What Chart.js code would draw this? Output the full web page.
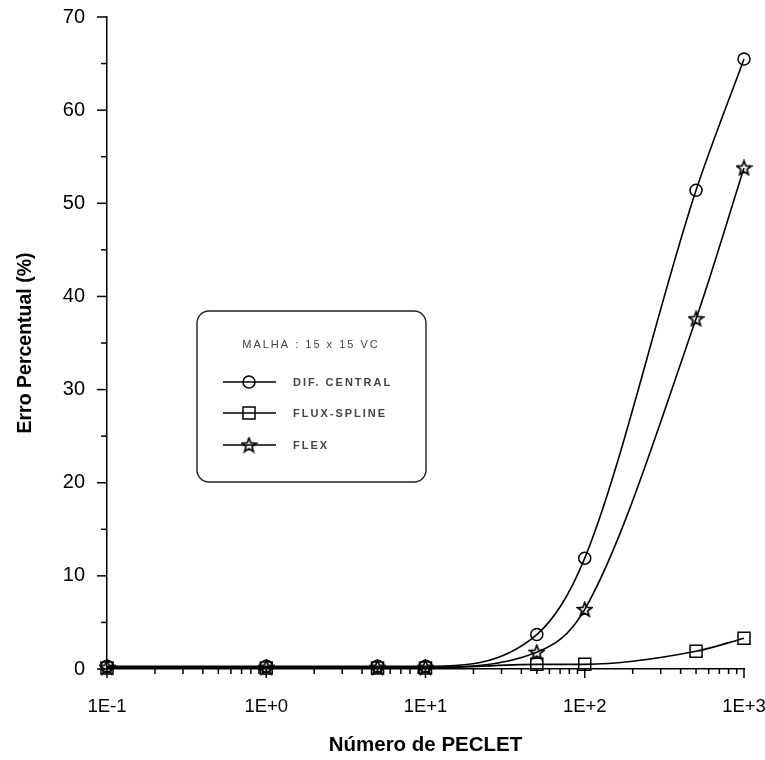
<!DOCTYPE html>
<html>
<head>
<meta charset="utf-8">
<script src="https://cdn.jsdelivr.net/npm/chart.js@4"></script>
<style>
  html, body { margin: 0; padding: 0; background: #fff; }
  #wrap { width: 765px; height: 760px; }
</style>
</head>
<body>
<div id="wrap"><canvas id="peclet" width="765" height="760"></canvas></div>
<script>
// Número de PECLET (eixo x, log)
const peclet = [0.1, 1, 5, 10, 50, 100, 500, 1000];

// Erro percentual (%) por esquema
const difCentral = [0.3, 0.3, 0.3, 0.3, 3.7, 11.9, 51.4, 65.5];
const fluxSpline = [0.1, 0.1, 0.1, 0.1, 0.5, 0.5, 1.9, 3.3];
const flex = [0.2, 0.2, 0.2, 0.2, 1.8, 6.4, 37.6, 53.8];

// ticks
const xTickValues = [0.1, 1, 10, 100, 1000];
const xTickLabels = ['1E-1', '1E+0', '1E+1', '1E+2', '1E+3'];
const yTickValues = [0, 10, 20, 30, 40, 50, 60, 70];

const legendTitle = 'MALHA : 15 x 15 VC';
const seriesNames = ['DIF. CENTRAL', 'FLUX-SPLINE', 'FLEX'];

Chart.defaults.font.family = "'Liberation Sans', Arial, sans-serif";
Chart.defaults.color = '#000';

/**
 * estrela de 5 pontas (vazada) para usar como pointStyle
 */
function makeStar(size) {
  let c = document.createElement('canvas');
  c.width = size;
  c.height = size;
  let ctx = c.getContext('2d');
  let cx = size / 2, cy = size / 2 + 0.5;
  let R = size / 2 - 1, r = R * 0.42;
  ctx.beginPath();
  for (let i = 0; i < 10; i++) {
    let rad = (i % 2 === 0) ? R : r;
    let a = -Math.PI / 2 + i * Math.PI / 5;
    let px = cx + rad * Math.cos(a);
    let py = cy + rad * Math.sin(a);
    if (i === 0) ctx.moveTo(px, py); else ctx.lineTo(px, py);
  }
  ctx.closePath();
  ctx.lineWidth = 1.7;
  ctx.strokeStyle = '#000';
  ctx.stroke();
  return c;
}
const starImg = makeStar(17);

// marcas dos eixos (maiores e menores), posicionadas pelas escalas do chart
const axisTicks = {
  id: 'axisTicks',
  afterDraw(chart) {
    const ctx = chart.ctx;
    const xs = chart.scales.x, ys = chart.scales.y;
    const area = chart.chartArea;
    ctx.save();
    ctx.strokeStyle = '#000';
    ctx.lineWidth = 1.5;
    // eixo x
    xTickValues.forEach((d, i) => {
      let px = xs.getPixelForValue(d);
      ctx.beginPath();
      ctx.moveTo(px, area.bottom);
      ctx.lineTo(px, area.bottom + 9);
      ctx.stroke();
      if (i < xTickValues.length - 1) {
        for (let m = 2; m <= 9; m++) {
          let mx = xs.getPixelForValue(d * m);
          ctx.beginPath();
          ctx.moveTo(mx, area.bottom);
          ctx.lineTo(mx, area.bottom + 5);
          ctx.stroke();
        }
      }
    });
    // eixo y
    yTickValues.forEach((v, i) => {
      let py = ys.getPixelForValue(v);
      ctx.beginPath();
      ctx.moveTo(area.left - 10, py);
      ctx.lineTo(area.left, py);
      ctx.stroke();
      if (i < yTickValues.length - 1) {
        let my = ys.getPixelForValue(v + 5);
        ctx.beginPath();
        ctx.moveTo(area.left - 6, my);
        ctx.lineTo(area.left, my);
        ctx.stroke();
      }
    });
    ctx.restore();
  }
};

// caixa de legenda arredondada
const boxLegend = {
  id: 'boxLegend',
  afterDraw(chart) {
    const ctx = chart.ctx;
    let bx = 197, by = 311, bw = 229, bh = 171;
    ctx.save();
    ctx.strokeStyle = '#222';
    ctx.lineWidth = 1.4;
    ctx.beginPath();
    ctx.roundRect(bx, by, bw, bh, 12);
    ctx.stroke();

    ctx.fillStyle = '#444';
    ctx.font = "11px 'Liberation Sans', Arial, sans-serif";
    ctx.letterSpacing = '2px';
    ctx.textBaseline = 'middle';
    ctx.textAlign = 'center';
    ctx.fillText(legendTitle, 311, 345);

    const styles = ['circle', 'rect', starImg];
    const radius = [6, 8.5, 8];
    const rows = [382, 413, 445];
    ctx.textAlign = 'left';
    ctx.font = "bold 11px 'Liberation Sans', Arial, sans-serif";
    rows.forEach((ry, i) => {
      ctx.strokeStyle = '#000';
      ctx.lineWidth = 1.5;
      ctx.beginPath();
      ctx.moveTo(223, ry);
      ctx.lineTo(276, ry);
      ctx.stroke();
      ctx.fillStyle = 'rgba(0,0,0,0)';
      Chart.helpers.drawPoint(ctx, { pointStyle: styles[i], radius: radius[i], rotation: 0, borderWidth: 1.5 }, 249, ry);
      ctx.fillStyle = '#444';
      ctx.fillText(seriesNames[i], 293, ry + 1);
    });
    ctx.restore();
  }
};

const mkDataset = (label, values, style, r) => ({
  label: label,
  data: peclet.map((p, i) => ({ x: p, y: values[i] })),
  borderColor: '#000',
  backgroundColor: 'rgba(0,0,0,0)',
  borderWidth: 1.6,
  pointStyle: style,
  pointRadius: r,
  pointBorderWidth: 1.5,
  pointBorderColor: '#000',
  pointBackgroundColor: 'rgba(0,0,0,0)',
  cubicInterpolationMode: 'monotone',
  clip: false
});

new Chart(document.getElementById('peclet'), {
  type: 'line',
  data: {
    datasets: [
      mkDataset(seriesNames[1], fluxSpline, 'rect', 8.5),
      mkDataset(seriesNames[2], flex, starImg, 8),
      mkDataset(seriesNames[0], difCentral, 'circle', 6)
    ]
  },
  options: {
    responsive: false,
    animation: false,
    layout: { padding: { top: 17, right: 21, left: 0, bottom: 0 } },
    plugins: {
      legend: { display: false },
      tooltip: { enabled: false }
    },
    scales: {
      x: {
        type: 'logarithmic',
        min: 0.1,
        max: 1000,
        afterBuildTicks: (scale) => {
          scale.ticks = xTickValues.map(v => ({ value: v, major: true }));
        },
        afterFit: (scale) => {
          scale.height = 91;
          scale.paddingLeft = 0;
          scale.paddingRight = 0;
        },
        ticks: {
          autoSkip: false,
          maxRotation: 0,
          padding: 19,
          font: { size: 18.5 },
          callback: (value, index) => xTickLabels[index]
        },
        grid: { display: false },
        border: { display: true, color: '#000', width: 1.5 },
        title: {
          display: true,
          text: 'Número de PECLET',
          font: { size: 20.5, weight: 'bold' },
          padding: { top: 0, bottom: 2 }
        }
      },
      y: {
        type: 'linear',
        min: 0,
        max: 70,
        afterFit: (scale) => {
          scale.width = 107;
          scale.paddingTop = 0;
          scale.paddingBottom = 0;
        },
        ticks: {
          stepSize: 10,
          padding: 14,
          font: { size: 20 }
        },
        grid: { display: false },
        border: { display: true, color: '#000', width: 1.5 },
        title: {
          display: true,
          text: 'Erro Percentual (%)',
          font: { size: 19.5, weight: 'bold' },
          padding: { top: 14, bottom: 0 }
        }
      }
    }
  },
  plugins: [axisTicks, boxLegend]
});
</script>
</body>
</html>
